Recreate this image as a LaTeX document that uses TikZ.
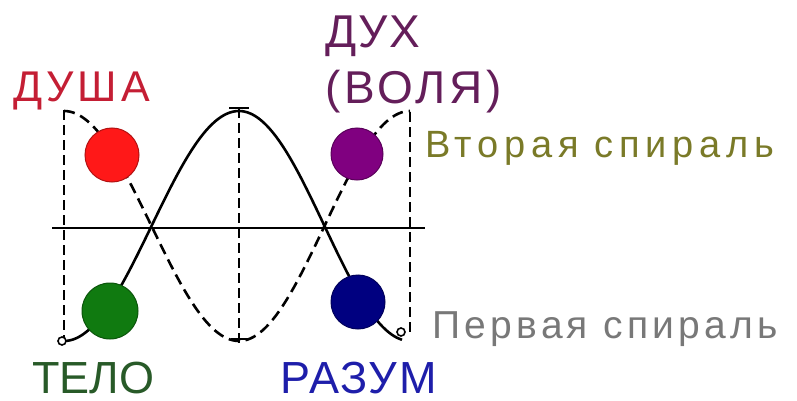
\documentclass[tikz,border=0pt]{standalone}
\usepackage{fontspec}
\setmainfont{Liberation Sans}
\definecolor{cRed}{RGB}{255,24,24}
\definecolor{cPurple}{RGB}{128,0,128}
\definecolor{cGreen}{RGB}{16,122,16}
\definecolor{cBlue}{RGB}{0,0,128}
\definecolor{tRed}{RGB}{196,30,52}
\definecolor{tPurple}{RGB}{100,30,90}
\definecolor{tOlive}{RGB}{122,122,40}
\definecolor{tGray}{RGB}{120,120,120}
\definecolor{tGreen}{RGB}{40,90,40}
\definecolor{tBlue}{RGB}{30,30,170}
\tikzset{
  ball/.style={circle,inner sep=0pt,draw=#1!70!black,line width=1pt,fill=#1},
  lbl/.style={anchor=base west,inner sep=0pt},
  guide/.style={line width=2.2pt,dash pattern=on 10pt off 5pt},
  spiralA/.style={line width=2.6pt},
  spiralB/.style={line width=2.6pt,dash pattern=on 11pt off 6pt},
  endring/.style={circle,draw,line width=1.6pt,fill=white,inner sep=0pt,minimum size=8pt},
}
\begin{document}
\begin{tikzpicture}[x=1pt,y=-1pt]
\useasboundingbox (0,0) rectangle (797,401);
% guides
\coordinate (gLt) at (64,110); \coordinate (gLb) at (64,340);
\coordinate (gMt) at (239,108); \coordinate (gMb) at (239,345);
\coordinate (gRt) at (410,112); \coordinate (gRb) at (410,334);
\draw[guide] (gLt) -- (gLb);
\draw[guide] (gMt) -- (gMb);
\draw[guide] (gRt) -- (gRb);
% axis
\coordinate (axL) at (52,228); \coordinate (axR) at (425,228);
\draw[line width=2.6pt] (axL) -- (axR);
% first spiral (solid)
\draw[spiralA] plot[domain=64:239,samples=60,smooth] (\x,{226+115*cos((\x-64)/175*180)})
  -- plot[domain=239:402,samples=60,smooth] (\x,{226-115*cos((\x-239)/171*180)});
% second spiral (dashed)
\draw[spiralB] plot[domain=64:239,samples=60,smooth] (\x,{226-115*cos((\x-64)/175*180)})
  -- plot[domain=239:410,samples=60,smooth] (\x,{226+115*cos((\x-239)/171*180)});
% ticks
\coordinate (tMa) at (229,108); \coordinate (tMb) at (249,108);
\coordinate (tBa) at (231,339); \coordinate (tBb) at (248,339);
\draw[line width=2.2pt] (tMa) -- (tMb);
\draw[line width=2.2pt] (tBa) -- (tBb);
% ring ends
\node[endring] (e1) at (62,341) {};
\node[endring] (e2) at (401,332) {};
% balls
\node[ball=cRed,minimum size=54pt] (dusha) at (112,155) {};
\node[ball=cPurple,minimum size=52pt] (duh) at (357,154) {};
\node[ball=cGreen,minimum size=56pt] (telo) at (110,311) {};
\node[ball=cBlue,minimum size=54pt] (razum) at (358,302) {};
% labels
\node[lbl,text=tRed,font=\fontsize{43}{43}\selectfont\addfontfeature{LetterSpace=9}] (lDusha) at (13,102) {ДУША};
\node[lbl,text=tPurple,font=\fontsize{46}{46}\selectfont\addfontfeature{LetterSpace=4}] (lDuh) at (325,48) {ДУХ};
\node[lbl,text=tPurple,font=\fontsize{46}{46}\selectfont\addfontfeature{LetterSpace=8}] (lVolya) at (325,103) {(ВОЛЯ)};
\node[lbl,text=tOlive,font=\fontsize{38}{38}\selectfont\addfontfeature{LetterSpace=15}] (lSecond) at (425,157) {Вторая спираль};
\node[lbl,text=tGray,font=\fontsize{39}{39}\selectfont\addfontfeature{LetterSpace=11}] (lFirst) at (432,338) {Первая спираль};
\node[lbl,text depth=0pt,text=tGreen,font=\fontsize{45}{45}\selectfont] (lTelo) at (32,393) {ТЕЛО};
\node[lbl,text depth=0pt,text=tBlue,font=\fontsize{45}{45}\selectfont\addfontfeature{LetterSpace=4}] (lRazum) at (280,393) {РАЗУМ};
\end{tikzpicture}
\end{document}
